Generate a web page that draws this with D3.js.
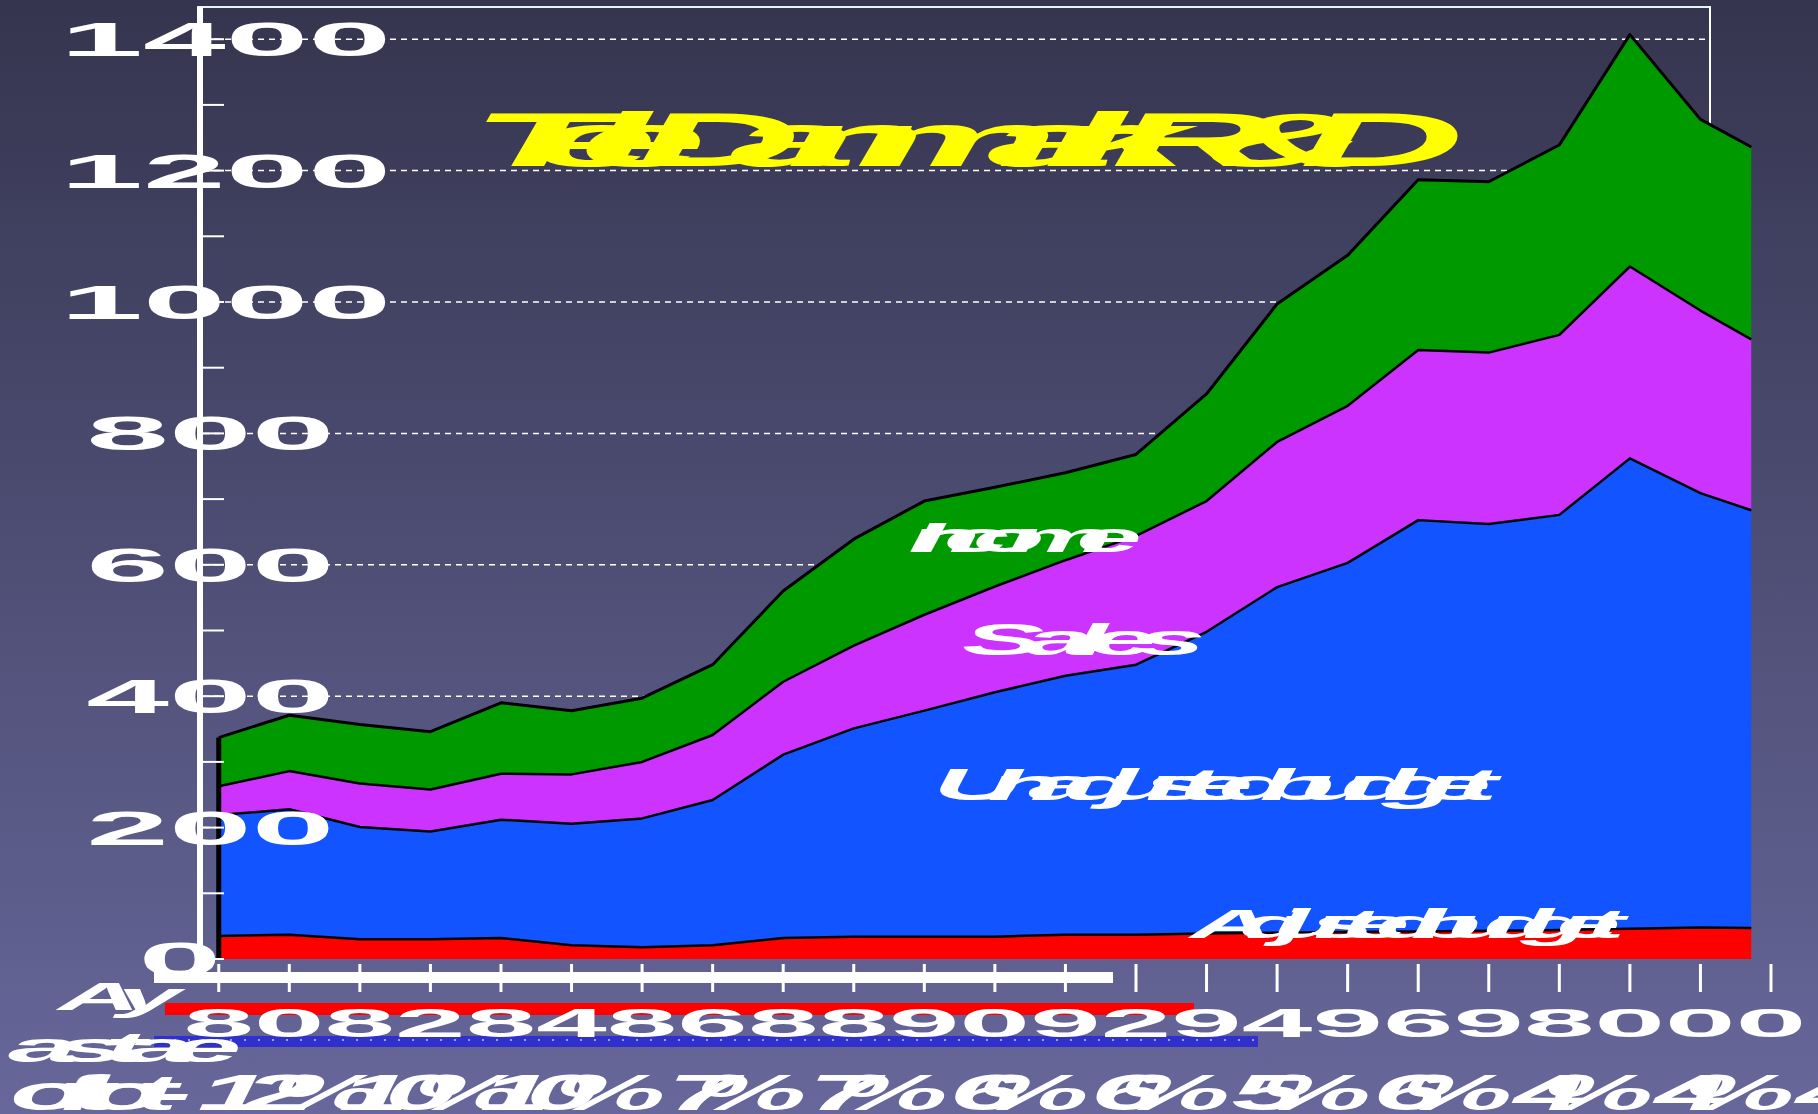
<!DOCTYPE html>
<html><head><meta charset="utf-8">
<script src="https://cdn.jsdelivr.net/npm/d3@7"></script>
<style>html,body{margin:0;padding:0;background:#4a4a6e;}svg{display:block;}</style>
</head><body>
<svg id="chart" width="1818" height="1114"></svg>
<script>
// ---- data ----
const periodIndex = [0,1,2,3,4,5,6,7,8,9,10,11,12,13,14,15,16,17,18,19,20,21,21.72];
const applied  = [35,37,30,30,32,21,18,21,32,34,34,34,37,37,39,40,41,42,43,44,46,48,47];
const unadjusted = [184,191,171,164,180,185,196,221,279,317,344,372,394,411,459,526,562,626,619,632,716,661,636];
const sales    = [44,58,66,64,70,75,86,99,111,126,146,161,176,196,199,221,239,259,261,274,292,278,260];
const income   = [74,85,90,88,108,97,97,107,138,162,173,151,133,124,163,210,229,259,260,289,353,291,293];
const seriesKeys = ["applied","unadjusted","sales","income"];
const seriesColors = {applied:"#ff0000", unadjusted:"#1254ff", sales:"#cc33ff", income:"#009900"};
const yMajor = [0,200,400,600,800,1000,1200,1400];
const yMinor = [100,300,500,700,900,1100,1300];
const yearLabels = ["80","82","84","86","88","90","92","94","96","98","00","0"];
const shareLabels = ["12","10","10","7","7","6","6","5","6","4","4","4"];
const titleText = "TeleDanmark R&D";

const svg = d3.select("#chart");
const W = 1818, H = 1114;
const defs = svg.append("defs");
const grad = defs.append("linearGradient").attr("id","bg").attr("x1",0).attr("y1",0).attr("x2",0).attr("y2",1);
grad.append("stop").attr("offset","0%").attr("stop-color","#35354f");
grad.append("stop").attr("offset","100%").attr("stop-color","#67679b");
const pat = defs.append("pattern").attr("id","dots").attr("width",14).attr("height",11).attr("patternUnits","userSpaceOnUse");
pat.append("rect").attr("width",14).attr("height",11).attr("fill","#3030cc");
pat.append("rect").attr("x",6).attr("y",5).attr("width",2).attr("height",2).attr("fill","#a0a0e8");

svg.append("rect").attr("width",W).attr("height",H).attr("fill","url(#bg)");

const x = d3.scaleLinear().domain([0,22]).range([218.75,1771]);
const y = d3.scaleLinear().domain([0,1400]).range([959,39.2]);

// frame
svg.append("line").attr("x1",197).attr("x2",1711).attr("y1",7).attr("y2",7).attr("stroke","#e6f4f4").attr("stroke-width",2);
svg.append("line").attr("x1",1710).attr("x2",1710).attr("y1",7).attr("y2",959).attr("stroke","#ffffff").attr("stroke-width",2);

// grid
svg.append("g").selectAll("line").data(yMajor.filter(v=>v>0)).join("line")
  .attr("x1",203).attr("x2",1710).attr("y1",d=>y(d)).attr("y2",d=>y(d))
  .attr("stroke","#ffffff").attr("stroke-width",1.5).attr("stroke-dasharray","6,5");

// stacked areas
const rows = periodIndex.map((t,i)=>({t, applied:applied[i], unadjusted:unadjusted[i], sales:sales[i], income:income[i]}));
const stacked = d3.stack().keys(seriesKeys)(rows);
const area = d3.area().x(d=>x(d.data.t)).y0(d=>y(d[0])).y1(d=>y(d[1]));
const topLine = d3.line().x(d=>x(d.data.t)).y(d=>y(d[1]));
svg.append("g").selectAll("path").data(stacked).join("path")
  .attr("d",area).attr("fill",d=>seriesColors[d.key]);
svg.append("g").selectAll("path").data(stacked).join("path")
  .attr("d",topLine).attr("fill","none").attr("stroke","#000").attr("stroke-width",(d,i)=>i===3?3:2.5).attr("stroke-linejoin","round");
const first = stacked[3][0];
svg.append("line").attr("x1",x(0)).attr("x2",x(0)).attr("y1",y(0)).attr("y2",y(first[1]))
  .attr("stroke","#000").attr("stroke-width",5);

// y axis
svg.append("line").attr("x1",200).attr("x2",200).attr("y1",7).attr("y2",980).attr("stroke","#ffffff").attr("stroke-width",6);
svg.append("g").selectAll("line").data(yMinor.concat(yMajor)).join("line")
  .attr("x1",200).attr("x2",224).attr("y1",d=>y(d)).attr("y2",d=>y(d)).attr("stroke","#fff").attr("stroke-width",2);

function squish(text, opt){
  return svg.append("text")
    .attr("transform",`translate(${opt.x},${opt.y}) scale(${opt.sx},1)`)
    .attr("text-anchor",opt.anchor||"start")
    .attr("font-family","'Liberation Sans', Arial, sans-serif")
    .attr("font-size",opt.size).attr("font-weight","bold")
    .attr("font-style",opt.italic?"italic":"normal")
    .attr("letter-spacing",opt.ls||0)
    .attr("fill",opt.fill||"#fff").text(text);
}

// y tick labels
yMajor.forEach(v=>{
  const s = String(v);
  squish(s,{x:164.5+15.3*s.length, y:y(v)+17, size:48, sx:3.1, anchor:"middle"});
});

// x axis bar and ticks
svg.append("rect").attr("x",154).attr("y",972).attr("width",1113-154).attr("height",11).attr("fill","#fff");
svg.append("g").selectAll("line").data(d3.range(0,26)).join("line")
  .attr("x1",d=>x(d)).attr("x2",d=>x(d)).attr("y1",964).attr("y2",992).attr("stroke","#fff").attr("stroke-width",3);

// bottom rows
svg.append("rect").attr("x",165).attr("y",1003).attr("width",1194-165).attr("height",12).attr("fill","#ff0000");
svg.append("rect").attr("x",154).attr("y",1036).attr("width",1258-154).attr("height",11).attr("fill","url(#dots)");
squish("Ay",{x:58, y:1010, size:38, sx:3, ls:-7.6, italic:true});
squish("astae",{x:8, y:1062, size:42, sx:3, ls:-7.4, italic:true});
const digitStep = x(1)-x(0);
yearLabels.forEach((lab,k)=>{
  squish(lab,{x:x(2*k)-digitStep/2, y:1037, size:40, sx:3.17, anchor:"start"});
});
squish("oftot-",{x:10, y:1110, size:50, sx:2.5, ls:-11, italic:true});
shareLabels.forEach((lab,k)=>{
  const cx = (x(2*k)+x(2*k+1))/2;
  squish(lab,{x:cx+36, y:1110, size:50, sx:2.6, ls:-10, anchor:"end", italic:true});
  squish("%",{x:cx+18, y:1110, size:50, sx:2.5, italic:true});
});

// title and series labels
squish(titleText,{x:470, y:166, size:76, sx:3, ls:-23.5, italic:true, fill:"#ffff00"});
squish("Income",{x:912, y:552, size:42, sx:2.8, ls:-13, italic:true});
squish("Sales",{x:962, y:655, size:44, sx:2.8, ls:-7, italic:true});
squish("Unadjusted budget",{x:933, y:800, size:44, sx:2.8, ls:-12.3, italic:true});
squish("Adjusted budget",{x:1190, y:938, size:41, sx:2.8, ls:-12, italic:true});
</script>
</body></html>
